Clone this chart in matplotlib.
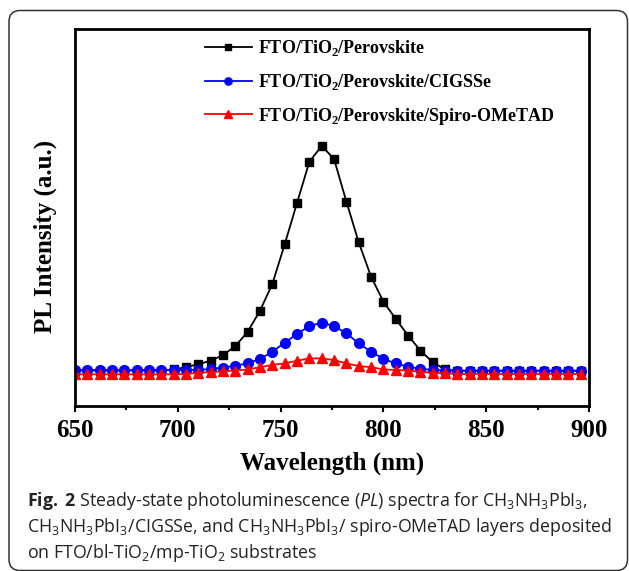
import numpy as np
import matplotlib
matplotlib.use("Agg")
import matplotlib.pyplot as plt
from matplotlib.patches import FancyBboxPatch
from matplotlib.transforms import IdentityTransform
from matplotlib.ticker import MultipleLocator

plt.rcParams["font.family"] = ["Liberation Serif", "DejaVu Serif"]
plt.rcParams["font.weight"] = "bold"
plt.rcParams["mathtext.fontset"] = "custom"
plt.rcParams["mathtext.rm"] = "Open Sans:weight=normal"
plt.rcParams["mathtext.it"] = "Open Sans:style=italic:weight=normal"
plt.rcParams["mathtext.sf"] = "Open Sans:weight=bold"
plt.rcParams["mathtext.bf"] = "Liberation Serif:weight=bold"

# wavelength grid (nm), one point every 6 nm
wavelength = np.arange(650, 897, 6)

# PL intensity (a.u.)
pl_bare = [9.4, 9.4, 9.4, 9.4, 9.4, 9.4, 9.4, 9.4, 9.7, 10.3,
           11.1, 12.0, 13.5, 15.9, 19.7, 25.3, 32.4, 42.9, 53.9, 64.8,
           69.0, 65.5, 54.2, 43.4, 34.3, 27.7, 23.1, 18.7, 14.7, 11.6,
           9.7, 9.3, 9.3, 9.3, 9.3, 9.3, 9.3, 9.3, 9.3, 9.3,
           9.3, 9.3]
pl_cigsse = [9.55, 9.55, 9.55, 9.55, 9.55, 9.55, 9.55, 9.55, 9.55, 9.55,
             9.6, 9.8, 10.2, 10.7, 11.3, 12.5, 14.4, 16.8, 19.1, 21.2,
             22.1, 21.2, 19.3, 16.6, 14.4, 12.5, 11.3, 10.4, 9.9, 9.55,
             9.4, 9.4, 9.4, 9.4, 9.4, 9.4, 9.4, 9.4, 9.4, 9.4,
             9.4, 9.4]
pl_spiro = [8.4, 8.4, 8.4, 8.4, 8.4, 8.4, 8.4, 8.4, 8.4, 8.5,
            8.8, 9.0, 9.2, 9.4, 9.7, 10.3, 10.9, 11.3, 12.0, 12.65,
            12.6, 12.2, 11.3, 10.6, 10.3, 9.7, 9.55, 9.4, 9.1, 8.8,
            8.7, 8.5, 8.5, 8.5, 8.5, 8.5, 8.5, 8.5, 8.5, 8.5,
            8.5, 8.5]

labels = [r"FTO/TiO$_\mathbf{2}$/Perovskite",
          r"FTO/TiO$_\mathbf{2}$/Perovskite/CIGSSe",
          r"FTO/TiO$_\mathbf{2}$/Perovskite/Spiro-OMeTAD"]

fig = plt.figure(figsize=(6.29, 5.71), dpi=100)
ax = fig.add_axes([75/629, 1 - 406/571, 514/629, 377/571])

ax.plot(wavelength, pl_bare, "-s", color="black", lw=1.3, ms=6.2, label=labels[0])
ax.plot(wavelength, pl_cigsse, "-o", color="#0000ff", lw=1.3, ms=7, label=labels[1])
ax.plot(wavelength, pl_spiro, "-^", color="#ff0000", lw=1.3, ms=7.5, label=labels[2])

ax.set_xlim(650, 900)
ax.set_ylim(0, 100)
ax.xaxis.set_major_locator(MultipleLocator(50))
ax.xaxis.set_minor_locator(MultipleLocator(25))
ax.tick_params(axis="x", which="major", direction="out", length=4.5, width=1.5,
               labelsize=18, pad=5)
ax.tick_params(axis="x", which="minor", direction="out", length=3, width=1.5)
ax.set_yticks([])
for s in ax.spines.values():
    s.set_linewidth(2)

ax.set_xlabel("Wavelength (nm)", fontsize=18, fontweight="bold", labelpad=7)
ax.set_ylabel("PL Intensity (a.u.)", fontsize=18, fontweight="bold")
ax.yaxis.set_label_coords(-0.035, (406 - 236) / 377)

leg = ax.legend(loc="upper left", bbox_to_anchor=(130/514, 1 - 9/377), frameon=False,
                fontsize=13, handlelength=2.6, handletextpad=0.35, labelspacing=0.77,
                borderaxespad=0, borderpad=0, markerscale=0.75)

# caption
cap_kw = dict(fontsize=12.8, color="#222222", family="Open Sans", fontweight="normal",
              ha="left", va="center")
fig.text(27/629, 1 - 501/571,
         r"$\mathsf{Fig.}$ $\mathsf{2}$ Steady-state photoluminescence ($\mathit{PL}$) spectra for "
         r"CH$_3$NH$_3$PbI$_3$,", **cap_kw)
fig.text(27/629, 1 - 527/571,
         r"CH$_3$NH$_3$PbI$_3$/CIGSSe, and CH$_3$NH$_3$PbI$_3$/ spiro-OMeTAD layers deposited",
         **cap_kw)
fig.text(27/629, 1 - 553/571, r"on FTO/bl-TiO$_2$/mp-TiO$_2$ substrates", **cap_kw)

box = FancyBboxPatch((9, 0.5), 618.5, 560, boxstyle="round,pad=0,rounding_size=11",
                     transform=IdentityTransform(), fill=False, lw=1.1, ec="#333333")
fig.add_artist(box)

fig.savefig("out.png", dpi=100)
